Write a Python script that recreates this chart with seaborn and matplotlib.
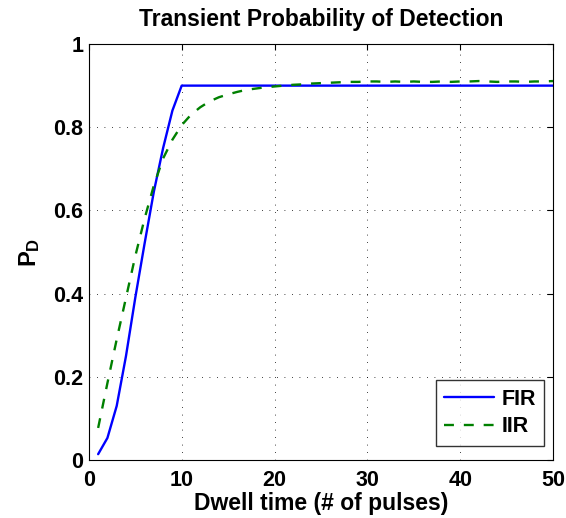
import numpy as np
import pandas as pd
import matplotlib
matplotlib.use("Agg")
import matplotlib.pyplot as plt
import seaborn as sns

# dwell time (number of pulses)
pulses = list(range(1, 51))

# FIR: ramps up to steady state at 10 pulses
fir_pd = [0.014, 0.053, 0.13, 0.25, 0.39, 0.52, 0.645, 0.75, 0.84, 0.90] + [0.90] * 40

# IIR: exponential-ish approach to ~0.91
iir_pd = [0.077, 0.185, 0.29, 0.39, 0.49, 0.58, 0.66, 0.725, 0.77, 0.805,
          0.83, 0.848, 0.862, 0.872, 0.879, 0.885, 0.89, 0.893, 0.896, 0.898,
          0.900, 0.902, 0.903, 0.905, 0.906, 0.907, 0.908, 0.909, 0.909, 0.910,
          0.910, 0.909, 0.910, 0.909, 0.910, 0.909, 0.909, 0.910, 0.909, 0.910,
          0.910, 0.911, 0.910, 0.909, 0.910, 0.910, 0.909, 0.910, 0.910, 0.911]

sns.set_style("white")
plt.rcParams['font.family'] = ['Liberation Sans', 'DejaVu Sans']
plt.rcParams['text.color'] = 'black'
plt.rcParams['axes.labelcolor'] = 'black'
plt.rcParams['mathtext.fontset'] = 'custom'
plt.rcParams['mathtext.rm'] = 'Liberation Sans:bold'
plt.rcParams['mathtext.it'] = 'Liberation Sans:bold'
plt.rcParams['mathtext.bf'] = 'Liberation Sans:bold'

df = pd.DataFrame({'pulses': pulses, 'FIR': fir_pd, 'IIR': iir_pd})

fig = plt.figure(figsize=(5.66, 5.18), dpi=100)
ax = fig.add_axes([0.157, 0.112, 0.820, 0.803])

sns.lineplot(data=df, x='pulses', y='FIR', ax=ax, color=(0, 0, 1), lw=1.7, label='FIR')
sns.lineplot(data=df, x='pulses', y='IIR', ax=ax, color=(0, 0.5, 0), lw=1.7,
             linestyle=(0, (4.2, 4.2)), label='IIR')

ax.set_xlim(0, 50)
ax.set_ylim(0, 1)
ax.set_xticks([0, 10, 20, 30, 40, 50])
ax.set_yticks([0, 0.2, 0.4, 0.6, 0.8, 1.0])
ax.set_yticklabels(['0', '0.2', '0.4', '0.6', '0.8', '1'])
ax.tick_params(direction='in', top=True, right=True, length=4, width=0.8,
               labelsize=15.5, colors='black')
ax.tick_params(axis='x', pad=7)
ax.tick_params(axis='y', pad=4)
for lab in ax.get_xticklabels() + ax.get_yticklabels():
    lab.set_fontweight('bold')
ax.grid(True, color='black', linestyle=(0, (1, 8)), linewidth=0.6)
for sp in ax.spines.values():
    sp.set_color('black')
    sp.set_linewidth(0.8)

ax.set_title('Transient Probability of Detection', fontsize=16.5, fontweight='bold', pad=13)
ax.set_xlabel('Dwell time (# of pulses)', fontsize=16.5, fontweight='bold', labelpad=1)
ax.set_ylabel(r'$\mathbf{P_D}$', fontsize=17, labelpad=8)

leg = ax.legend(loc='lower right', bbox_to_anchor=(0.981, 0.034), borderaxespad=0,
                fontsize=15.5, frameon=True, fancybox=False, edgecolor='black',
                handlelength=2.3, handletextpad=0.35, labelspacing=0.3)
leg.get_frame().set_linewidth(1.0)
for t in leg.get_texts():
    t.set_fontweight('bold')

fig.savefig('out.png', dpi=100)
